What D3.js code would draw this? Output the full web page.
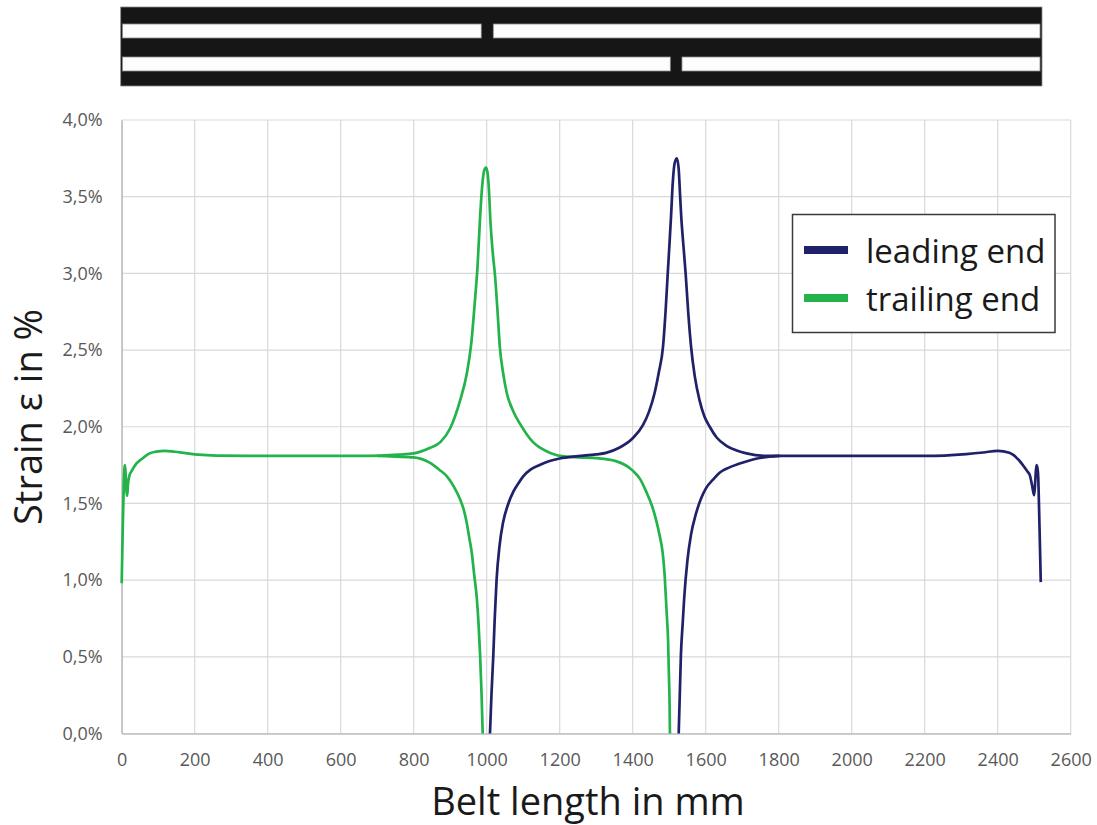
<!DOCTYPE html>
<html>
<head>
<meta charset="utf-8">
<script src="https://cdn.jsdelivr.net/npm/d3@7"></script>
<style>
  body { margin: 0; background: #fff; }
  svg text { font-family: 'Open Sans', sans-serif; }
</style>
</head>
<body>
<div id="chart"></div>
<script>
// x = belt length in mm, y = strain in %
var trailMainX = [0, 3, 6, 9, 11, 13, 15, 17, 21, 27, 40, 55, 75, 95, 118, 145, 175, 210, 260, 350, 500, 650, 709, 760, 800, 845, 873, 900, 927, 945, 958, 967, 975, 982, 988, 993, 998, 1002, 1006, 1010, 1016, 1023, 1030, 1036, 1045, 1055, 1073, 1091, 1110, 1127, 1145, 1164, 1200, 1255, 1300, 1354, 1400, 1420, 1437, 1452, 1463, 1473, 1482, 1487, 1491, 1494, 1497, 1499, 1501, 1502];
var trailMainY = [0.98, 1.35, 1.65, 1.75, 1.68, 1.58, 1.55, 1.62, 1.68, 1.71, 1.76, 1.79, 1.825, 1.838, 1.843, 1.837, 1.828, 1.818, 1.812, 1.81, 1.81, 1.81, 1.812, 1.818, 1.826, 1.863, 1.90, 1.99, 2.17, 2.34, 2.55, 2.80, 3.05, 3.37, 3.58, 3.67, 3.69, 3.66, 3.55, 3.35, 3.15, 2.98, 2.74, 2.52, 2.35, 2.22, 2.10, 2.02, 1.95, 1.90, 1.865, 1.84, 1.81, 1.80, 1.795, 1.776, 1.714, 1.66, 1.577, 1.49, 1.403, 1.30, 1.18, 1.05, 0.88, 0.75, 0.60, 0.40, 0.20, 0.0];

var trailSpliceX = [700, 750, 800, 845, 870, 891, 910, 927, 937, 945, 952, 959, 966, 973, 978, 982, 986, 989];
var trailSpliceY = [1.81, 1.805, 1.80, 1.764, 1.72, 1.677, 1.61, 1.527, 1.46, 1.378, 1.28, 1.18, 1.03, 0.88, 0.70, 0.505, 0.25, 0.0];

var leadMainX = [1009, 1013, 1018, 1022, 1027, 1035, 1045, 1058, 1073, 1088, 1100, 1120, 1145, 1170, 1200, 1250, 1300, 1327, 1363, 1400, 1428, 1445, 1460, 1472, 1483, 1490, 1496, 1501, 1505, 1510, 1515, 1521, 1526, 1530, 1533, 1539, 1545, 1552, 1560, 1570, 1583, 1596, 1611, 1630, 1657, 1685, 1712, 1767, 1850, 2000, 2200, 2314, 2360, 2400, 2432, 2459, 2475, 2482, 2488, 2494, 2500, 2503, 2506, 2509, 2511, 2513, 2515, 2518];
var leadMainY = [0.0, 0.25, 0.505, 0.75, 1.0, 1.22, 1.378, 1.49, 1.577, 1.635, 1.677, 1.72, 1.75, 1.775, 1.793, 1.808, 1.82, 1.83, 1.863, 1.925, 2.01, 2.10, 2.22, 2.36, 2.52, 2.75, 3.0, 3.2, 3.37, 3.6, 3.72, 3.75, 3.68, 3.50, 3.37, 3.18, 3.0, 2.75, 2.52, 2.33, 2.174, 2.07, 2.0, 1.93, 1.876, 1.845, 1.826, 1.81, 1.81, 1.81, 1.81, 1.822, 1.832, 1.843, 1.83, 1.78, 1.73, 1.707, 1.685, 1.62, 1.554, 1.65, 1.75, 1.73, 1.674, 1.50, 1.30, 0.987];

var leadSpliceX = [1526, 1529, 1532, 1537, 1541, 1550, 1560, 1573, 1587, 1601, 1620, 1638, 1665, 1693, 1720, 1748, 1803];
var leadSpliceY = [0.0, 0.25, 0.505, 0.72, 0.88, 1.13, 1.30, 1.43, 1.53, 1.60, 1.655, 1.70, 1.735, 1.76, 1.78, 1.796, 1.81];

// belt sketch: total length and splice gaps (mm)
var beltLength = 2520;
var gapUpper = [985, 1018];
var gapLower = [1503, 1535];

var xTicks = [0, 200, 400, 600, 800, 1000, 1200, 1400, 1600, 1800, 2000, 2200, 2400, 2600];
var yTicks = [0, 0.5, 1, 1.5, 2, 2.5, 3, 3.5, 4];

var seriesNames = ['leading end', 'trailing end'];
var colors = { 'leading end': '#1f2268', 'trailing end': '#22b34a' };

var width = 1097, height = 825;
var margin = { top: 120, right: 26.3, bottom: 91.5, left: 121.7 };

var de = d3.formatLocale({ decimal: ',', thousands: '.', grouping: [3], currency: ['', ''] });
var fmtPct = de.format('.1f');

var svg = d3.select('#chart').append('svg')
    .attr('width', width)
    .attr('height', height);

var x = d3.scaleLinear()
    .domain([0, 2600])
    .range([margin.left, width - margin.right]);

var y = d3.scaleLinear()
    .domain([0, 4])
    .range([height - margin.bottom, margin.top]);

// grid
svg.append('g')
    .selectAll('line')
    .data(xTicks)
    .enter().append('line')
    .attr('x1', function(d) { return x(d); })
    .attr('x2', function(d) { return x(d); })
    .attr('y1', y(0))
    .attr('y2', y(4))
    .attr('stroke', '#d9d9d9')
    .attr('stroke-width', 1.2);

svg.append('g')
    .selectAll('line')
    .data(yTicks)
    .enter().append('line')
    .attr('x1', x(0))
    .attr('x2', x(2600))
    .attr('y1', function(d) { return y(d); })
    .attr('y2', function(d) { return y(d); })
    .attr('stroke', '#d9d9d9')
    .attr('stroke-width', 1.2);

// axes
var xAxis = svg.append('g')
    .attr('transform', 'translate(0,' + y(0) + ')')
    .call(d3.axisBottom(x).tickValues(xTicks).tickSize(0).tickPadding(20).tickFormat(d3.format('d')));

var yAxis = svg.append('g')
    .attr('transform', 'translate(' + x(0) + ',0)')
    .call(d3.axisLeft(y).tickValues(yTicks).tickSize(0).tickPadding(19)
      .tickFormat(function(d) { return fmtPct(d) + '%'; }));

[xAxis, yAxis].forEach(function(a) {
  a.select('.domain').attr('stroke', '#bfbfbf').attr('stroke-width', 1.5);
  a.selectAll('text')
      .attr('fill', '#595959')
      .style('font-size', '18px')
      .style('font-family', "'Open Sans', sans-serif");
});

// curves
var line = d3.line()
    .curve(d3.curveMonotoneX)
    .x(function(d) { return x(d[0]); })
    .y(function(d) { return y(d[1]); });

function pairs(xs, ys) {
  return xs.map(function(v, i) { return [v, ys[i]]; });
}

var curves = [
  { name: 'trailing end', pts: pairs(trailSpliceX, trailSpliceY) },
  { name: 'trailing end', pts: pairs(trailMainX, trailMainY) },
  { name: 'leading end', pts: pairs(leadSpliceX, leadSpliceY) },
  { name: 'leading end', pts: pairs(leadMainX, leadMainY) }
];

svg.append('g')
    .selectAll('path')
    .data(curves)
    .enter().append('path')
    .attr('d', function(d) { return line(d.pts); })
    .attr('fill', 'none')
    .attr('stroke', function(d) { return colors[d.name]; })
    .attr('stroke-width', 2.7)
    .attr('stroke-linejoin', 'round');

// belt sketch on top
var belt = svg.append('g');
belt.append('rect')
    .attr('x', x(0) - 1)
    .attr('y', 7)
    .attr('width', x(beltLength) - x(0) + 1.5)
    .attr('height', 79)
    .attr('fill', '#161616')
    .attr('stroke', '#8a8a8a')
    .attr('stroke-width', 0.8);

var strips = [
  { y: 24, gap: gapUpper },
  { y: 57, gap: gapLower }
];
strips.forEach(function(s) {
  var parts = [[0, s.gap[0]], [s.gap[1], beltLength]];
  belt.selectAll(null)
      .data(parts)
      .enter().append('rect')
      .attr('x', function(p) { return x(p[0]) + (p[0] === 0 ? 0.8 : 0); })
      .attr('y', s.y)
      .attr('width', function(p) { return x(p[1]) - x(p[0]) - (p[0] === 0 ? 0.8 : 0) - (p[1] === beltLength ? 1.5 : 0); })
      .attr('height', 14)
      .attr('fill', '#fdfdfd')
      .attr('stroke', '#8a8a8a')
      .attr('stroke-width', 0.8);
});

// legend
var legend = svg.append('g');
legend.append('rect')
    .attr('x', 792.5)
    .attr('y', 214.5)
    .attr('width', 262.5)
    .attr('height', 118)
    .attr('fill', '#fff')
    .attr('stroke', '#3a3a3a')
    .attr('stroke-width', 1.5);

seriesNames.forEach(function(name, i) {
  var ly = 250 + i * 48;
  legend.append('line')
      .attr('x1', 804)
      .attr('x2', 848)
      .attr('y1', ly)
      .attr('y2', ly)
      .attr('stroke', colors[name])
      .attr('stroke-width', 8);
  legend.append('text')
      .attr('x', 866)
      .attr('y', ly + 13)
      .attr('fill', '#1a1a1a')
      .style('font-size', '33px')
      .text(name);
});

// axis titles
svg.append('text')
    .attr('x', 588)
    .attr('y', 815)
    .attr('text-anchor', 'middle')
    .attr('fill', '#1a1a1a')
    .style('font-size', '38px')
    .text('Belt length in mm');

svg.append('text')
    .attr('transform', 'translate(42,417) rotate(-90)')
    .attr('text-anchor', 'middle')
    .attr('fill', '#1a1a1a')
    .style('font-size', '38px')
    .text('Strain ε in %');
</script>
</body>
</html>
